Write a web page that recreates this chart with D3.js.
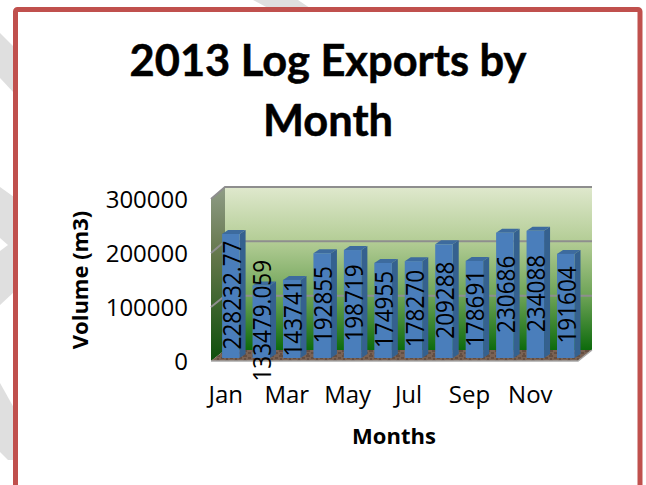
<!DOCTYPE html>
<html><head><meta charset="utf-8">
<script src="https://cdnjs.cloudflare.com/ajax/libs/d3/7.8.5/d3.min.js"></script>
<style>html,body{margin:0;padding:0;background:#fff;overflow:hidden}svg{display:block}</style>
</head><body><svg id="c" width="646" height="485"></svg>
<script>
const months=["Jan","Feb","Mar","Apr","May","Jun","Jul","Aug","Sep","Oct","Nov","Dec"];
const volumes=[228232.77,133479.059,143741,192855,198719,174955,178270,209288,178691,230686,234088,191604];
const volumeLabels=["228232.77","133479.059","143741","192855","198719","174955","178270","209288","178691","230686","234088","191604"];
const yTicks=[0,100000,200000,300000];
const xTickLabels=["Jan","Mar","May","Jul","Sep","Nov"];
const titleLines=["2013 Log Exports by","Month"];

const svg=d3.select("#c");
const UI='"Open Sans",sans-serif', TT='Lato,"Open Sans",sans-serif';
const defs=svg.append("defs");
function grad(id,stops){const g=defs.append("linearGradient").attr("id",id).attr("x1",0).attr("y1",0).attr("x2",0).attr("y2",1);
 stops.forEach(s=>g.append("stop").attr("offset",s[0]).attr("stop-color",s[1]));}
grad("back",[[0,"#dfe8cd"],[.33,"#b4cd96"],[.66,"#6fa458"],[1,"#0d6a0c"]]);
grad("side",[[0,"#8f9c86"],[.4,"#63764a"],[1,"#0e4f0c"]]);
const pat=defs.append("pattern").attr("id","soil").attr("patternUnits","userSpaceOnUse").attr("width",9).attr("height",5);
pat.append("rect").attr("width",9).attr("height",5).attr("fill","#7a6253");
pat.append("path").attr("d","M0,1h4M5,3h3M1,4h2").attr("stroke","#4d3a2e").attr("stroke-width",1);

// background watermark stripes
svg.append("g").attr("fill","#dfdfdf").selectAll("path").data([
 "M0,33L14,47L14,93L0,78Z","M0,187L14,197L14,292L0,305L0,251L8,245L0,238Z",
 "M0,383L14,408L14,460L8,460L0,452Z","M253,0L298,0L310,8L268,8Z"
]).join("path").attr("d",d=>d);
svg.append("rect").attr("x",15.5).attr("y",9.5).attr("width",624.5).attr("height",490).attr("rx",2)
 .attr("fill","#fff").attr("stroke","#c0504d").attr("stroke-width",5);

// title
svg.append("g").selectAll("text").data(titleLines).join("text")
 .attr("x",328).attr("y",(d,i)=>76+i*60).attr("text-anchor","middle")
 .attr("font-family",TT).attr("font-weight",700).attr("font-size",43.4).attr("fill","#000")
 .attr("stroke","#000").attr("stroke-width",0.5).text(d=>d);

// scales
const depthX=14, barDX=6, barDY=4;
const left=211, right=578;
const x=d3.scaleBand().domain(months).range([216,580.6]).paddingInner(0.425).paddingOuter(0.2);
const yFront=d3.scaleLinear().domain([0,300000]).range([361,199]);
const yBack=d3.scaleLinear().domain([0,300000]).range([350,187]);
const yBar=d3.scaleLinear().domain([0,300000]).range([358,195]);

// walls
const yb0=yBack(0), yb3=yBack(300000), yf0=yFront(0), yf3=yFront(300000);
svg.append("path").attr("d",`M${left},${yf3}L${left+depthX},${yb3}L${left+depthX},${yb0}L${left},${yf0}Z`).attr("fill","url(#side)");
svg.append("rect").attr("x",left+depthX).attr("y",yb3).attr("width",right-left).attr("height",yb0-yb3).attr("fill","url(#back)");
svg.append("path").attr("d",`M${left},${yf0}L${left+depthX},${yb0}L${right+depthX},${yb0}L${right},${yf0}Z`).attr("fill","url(#soil)");
svg.append("path").attr("d",`M${left},${yf0}H${right}L${right+depthX},${yb0}`).attr("fill","none").attr("stroke","#a8a8a8").attr("stroke-width",1.5);

// gridlines
svg.append("g").selectAll("path").data(yTicks.slice(1)).join("path")
 .attr("d",v=>`M${left},${yFront(v)}L${left+depthX},${yBack(v)}H${right+depthX}`)
 .attr("fill","none").attr("stroke","#8e8e8e").attr("stroke-width",2);

// y axis
const gy=svg.append("g").attr("transform",`translate(${left},1)`)
 .call(d3.axisLeft(yFront).tickValues(yTicks).tickFormat(d3.format("d")).tickSize(0).tickPadding(23));
gy.select(".domain").remove();
gy.selectAll("text").attr("font-family",UI).attr("font-size",24).attr("fill","#000");

// x axis
const gx=svg.append("g").attr("transform",`translate(-5,${yf0+25})`)
 .call(d3.axisBottom(x).tickValues(xTickLabels).tickSize(0).tickPadding(0));
gx.select(".domain").remove();
gx.selectAll("text").attr("font-family",UI).attr("font-size",24).attr("fill","#000");

// bars
const bars=svg.append("g").selectAll("g").data(months).join("g");
const bw=x.bandwidth();
bars.append("path").attr("fill","#35618f")
 .attr("d",(m,i)=>{const X=x(m)+bw,t=yBar(volumes[i]),b=yBar(0);return `M${X},${t}l${barDX},${-barDY}V${b-barDY}l${-barDX},${barDY}Z`;});
bars.append("path").attr("fill","#3d6b9e")
 .attr("d",(m,i)=>{const X=x(m),t=yBar(volumes[i]);return `M${X},${t}l${barDX},${-barDY}h${bw}l${-barDX},${barDY}Z`;});
bars.append("rect").attr("fill","#4a7ebb").attr("x",m=>x(m)).attr("width",bw)
 .attr("y",(m,i)=>yBar(volumes[i])).attr("height",(m,i)=>yBar(0)-yBar(volumes[i]));

// data labels
svg.append("g").selectAll("text").data(months).join("text")
 .attr("transform",(m,i)=>`translate(${x(m)+bw/2+10},${(yBar(volumes[i])+yBar(0))/2-1}) rotate(-90) scale(1,1.13)`)
 .attr("text-anchor","middle").attr("font-family",UI).attr("font-size",22.5).attr("fill","#000")
 .text((m,i)=>volumeLabels[i]);

// axis titles
svg.append("text").attr("transform","translate(88,280) rotate(-90)").attr("text-anchor","middle")
 .attr("font-family",UI).attr("font-weight",700).attr("font-size",22).text("Volume (m3)");
svg.append("text").attr("x",394).attr("y",444).attr("text-anchor","middle")
 .attr("font-family",UI).attr("font-weight",700).attr("font-size",22).text("Months");
</script></body></html>
